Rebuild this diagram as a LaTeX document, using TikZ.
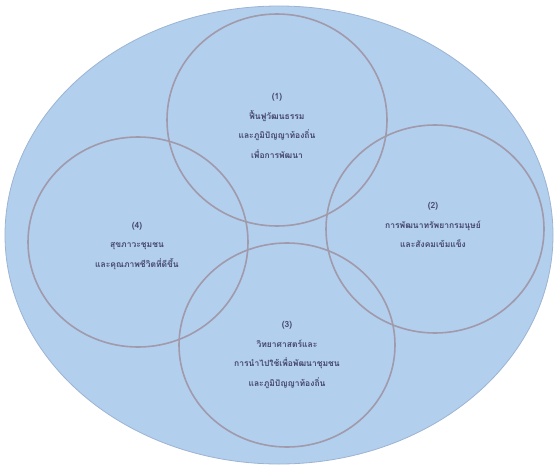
\documentclass[tikz,border=0pt]{standalone}
\usepackage{fontspec}
\newfontfamily\thaifont[Script=Thai]{Loma}
\definecolor{FieldBlue}{HTML}{B3CFEE}
\definecolor{FieldEdge}{HTML}{9CB4D2}
\definecolor{RingMauve}{HTML}{A09AAA}
\definecolor{LabelInk}{HTML}{45466E}

\begin{document}
\begin{tikzpicture}[x=1pt, y=-1pt,
  ring/.style={draw=RingMauve, line width=1.6pt},
  label/.style={align=center, text=LabelInk, font=\thaifont\bfseries\fontsize{8.5}{19.5}\selectfont}]
  \useasboundingbox (0,0) rectangle (556,468);
  \fill[white] (0,0) rectangle (556,468);

  % outer field
  \draw[FieldEdge, fill=FieldBlue, line width=0.8pt] (279,235) ellipse (274 and 229);

  % the four rings
  \draw[ring] (277,120) ellipse (110 and 106);
  \draw[ring] (435,229) ellipse (109 and 104);
  \draw[ring] (287,345) ellipse (108 and 102);
  \draw[ring] (138,242) ellipse (110 and 105);

  \node[label] (one) at (277,126)
    {(1)\\ฟื้นฟูวัฒนธรรม\\และภูมิปัญญาท้องถิ่น\\เพื่อการพัฒนา};
  \node[label] (two) at (433,225)
    {(2)\\การพัฒนาทรัพยากรมนุษย์\\และสังคมเข้มแข็ง};
  \node[label] (three) at (287,355)
    {(3)\\วิทยาศาสตร์และ\\การนำไปใช้เพื่อพัฒนาชุมชน\\และภูมิปัญญาท้องถิ่น};
  \node[label] (four) at (137,246)
    {(4)\\สุขภาวะชุมชน\\และคุณภาพชีวิตที่ดีขึ้น};
\end{tikzpicture}
\end{document}
